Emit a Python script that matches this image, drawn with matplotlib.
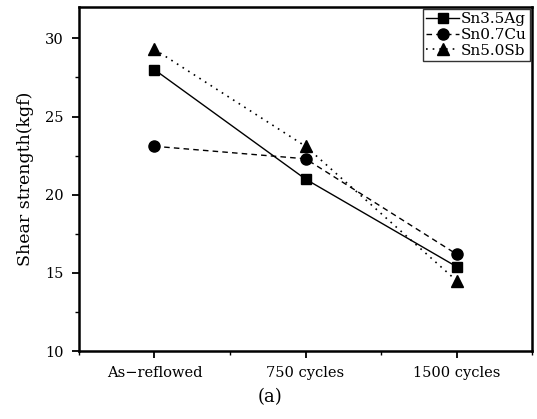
import numpy as np
import matplotlib.pyplot as plt
from matplotlib.ticker import MultipleLocator

categories = ["As\u2212reflowed", "750 cycles", "1500 cycles"]
sn35ag = [28.0, 21.0, 15.4]
sn07cu = [23.1, 22.3, 16.2]
sn50sb = [29.3, 23.1, 14.5]

plt.rcParams['font.family'] = ['DejaVu Serif']

fig = plt.figure(figsize=(5.37, 4.19), dpi=100)
ax = fig.add_axes([0.147, 0.162, 0.844, 0.821])

x = np.arange(len(categories))
ax.plot(x, sn35ag, 'k-', marker='s', ms=7, lw=1, label='Sn3.5Ag')
ax.plot(x, sn07cu, 'k', ls=(0, (4, 3)), marker='o', ms=8, lw=1, label='Sn0.7Cu')
ax.plot(x, sn50sb, 'k', ls=(0, (1, 3)), marker='^', ms=8, lw=1.2, label='Sn5.0Sb')

ax.set_xlim(-0.5, 2.5)
ax.set_ylim(10, 32)
ax.set_xticks(x)
ax.set_xticklabels(categories)
ax.xaxis.set_minor_locator(MultipleLocator(0.5))
ax.yaxis.set_major_locator(MultipleLocator(5))
ax.yaxis.set_minor_locator(MultipleLocator(2.5))
ax.tick_params(which='major', direction='out', length=5, width=1.3, labelsize=10.5, pad=6)
ax.tick_params(which='minor', direction='out', length=3, width=1)
for s in ax.spines.values():
    s.set_linewidth(1.8)

ax.set_ylabel('Shear strength(kgf)', fontsize=12.5, labelpad=8)
fig.text(0.503, 0.04, '(a)', ha='center', fontsize=13)

leg = ax.legend(loc='upper right', fontsize=11, frameon=True, fancybox=False,
                edgecolor='black', borderpad=0.2, labelspacing=0.1,
                handlelength=2.2, handletextpad=0.1, borderaxespad=0.15)
leg.get_frame().set_linewidth(1)

fig.savefig('out.png', dpi=100)
